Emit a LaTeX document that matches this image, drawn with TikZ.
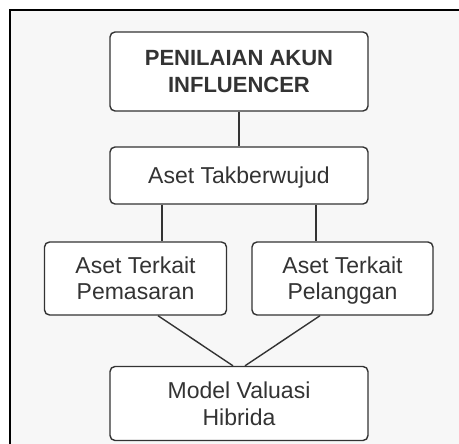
\documentclass[tikz,border=0pt]{standalone}
\usepackage{fontspec}
\setmainfont{Liberation Sans}
\usetikzlibrary{calc}
\definecolor{bg}{HTML}{F7F7F7}
\definecolor{ink}{HTML}{333333}
\newcommand\lbox[1]{\raisebox{0pt}[16pt][0pt]{#1}}
\begin{document}
\begin{tikzpicture}[x=1pt,y=-1pt,
  box/.style={draw=ink,line width=1.4pt,fill=white,rounded corners=5pt,
    rectangle,align=center,text=ink,inner sep=0pt,
    font=\fontsize{23}{27}\selectfont},
  link/.style={draw=ink,line width=1.4pt}]
\useasboundingbox (0,0) rectangle (459,444);
\fill[white] (0,0) rectangle (459,444);
\fill[bg] (10,10) rectangle (459,444);
\draw[line width=2pt,black] (10,444) -- (10,10) -- (459,10);
\node[box,minimum width=258pt,minimum height=79pt,font=\fontsize{22}{27}\selectfont\bfseries] (top) at (239,71.5) {\lbox{PENILAIAN AKUN}\\\lbox{INFLUENCER}};
\node[box,minimum width=258pt,minimum height=57pt] (mid) at (239,175.5) {\lbox{Aset Takberwujud}};
\node[box,minimum width=182pt,minimum height=73pt] (left) at (135.5,278.5) {\lbox{Aset Terkait}\\\lbox{Pemasaran}};
\node[box,minimum width=181pt,minimum height=73pt] (right) at (342.5,278.5) {\lbox{Aset Terkait}\\\lbox{Pelanggan}};
\node[box,minimum width=258pt,minimum height=74pt] (bot) at (239,403.5) {\lbox{Model Valuasi}\\\lbox{Hibrida}};
\coordinate (ml) at ($(mid.south)+(-77,0)$);
\coordinate (mr) at ($(mid.south)+(77,0)$);
\coordinate (lb) at ($(left.south)+(22.5,0)$);
\coordinate (rb) at ($(right.south)+(-22.5,0)$);
\coordinate (bl) at ($(bot.north)+(-6,0)$);
\coordinate (br) at ($(bot.north)+(6,0)$);
\draw[link] (top.south) -- (mid.north);
\draw[link] (ml) -- (ml |- left.north);
\draw[link] (mr) -- (mr |- right.north);
\draw[link] (lb) -- (bl);
\draw[link] (rb) -- (br);
\end{tikzpicture}
\end{document}
